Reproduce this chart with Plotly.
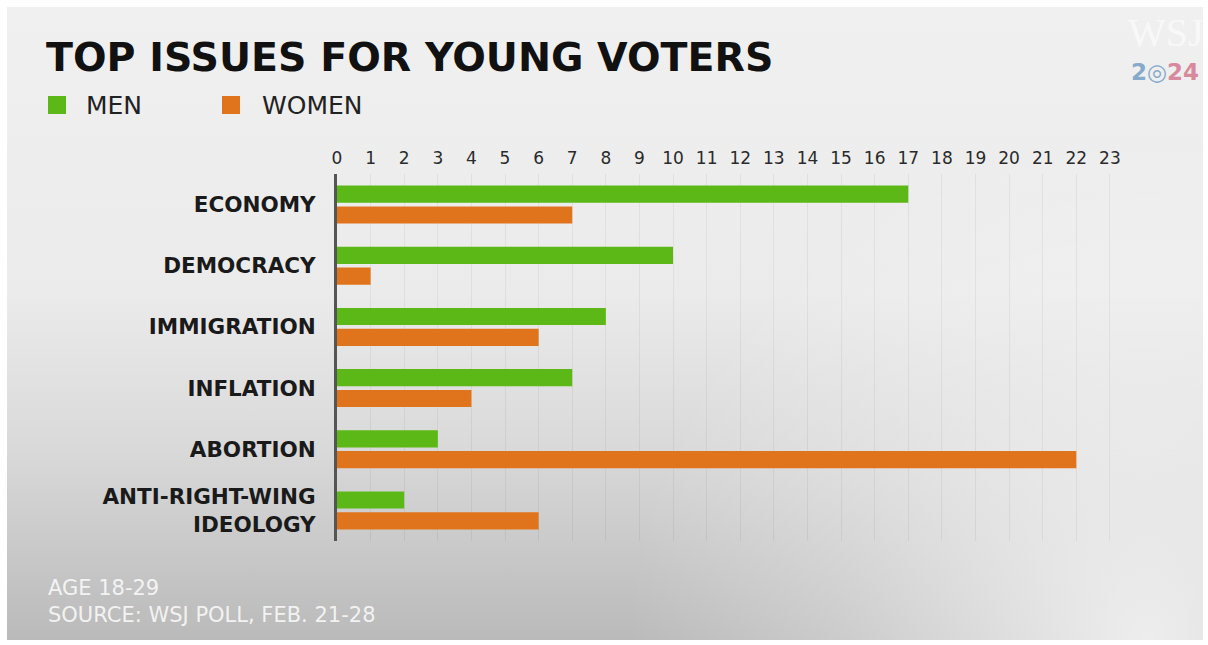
import plotly.graph_objects as go
import urllib.parse

categories = ["ECONOMY", "DEMOCRACY", "IMMIGRATION", "INFLATION", "ABORTION",
              "ANTI-RIGHT-WING<br>IDEOLOGY"]
men = [17, 10, 8, 7, 3, 2]
women = [7, 1, 6, 4, 22, 6]
tick_vals = list(range(0, 24))

GREEN = "#5cb816"
ORANGE = "#e0741d"
FONT = "DejaVu Sans"

W, H = 1208, 645
L, R, T, B = 337, 88, 174, 104
pw = W - L - R
ph = H - T - B

fig = go.Figure()
fig.add_trace(go.Bar(y=categories, x=men, orientation="h", name="MEN",
                     marker=dict(color=GREEN, line=dict(width=0)),
                     width=0.28, offset=-0.31, showlegend=False))
fig.add_trace(go.Bar(y=categories, x=women, orientation="h", name="WOMEN",
                     marker=dict(color=ORANGE, line=dict(width=0)),
                     width=0.28, offset=0.03, showlegend=False))

# background gradient panel via inline SVG
svg = f"""<svg xmlns='http://www.w3.org/2000/svg' width='1196' height='633' viewBox='0 0 1196 633' preserveAspectRatio='none'>
<defs>
<linearGradient id='g' x1='0' y1='0' x2='0' y2='1'>
<stop offset='0' stop-color='#f0f0f0'/>
<stop offset='0.45' stop-color='#ebebeb'/>
<stop offset='0.7' stop-color='#d9d9d9'/>
<stop offset='1' stop-color='#bababa'/>
</linearGradient>
<radialGradient id='r' cx='1140' cy='640' r='520' gradientUnits='userSpaceOnUse'>
<stop offset='0' stop-color='#ffffff' stop-opacity='0.75'/>
<stop offset='0.6' stop-color='#ffffff' stop-opacity='0.25'/>
<stop offset='1' stop-color='#ffffff' stop-opacity='0'/>
</radialGradient>
</defs>
<rect x='0' y='0' width='1196' height='633' fill='url(#g)'/>
<rect x='0' y='0' width='1196' height='633' fill='url(#r)'/>
</svg>"""
src = "data:image/svg+xml;charset=utf-8," + urllib.parse.quote(svg)

def px_x(p):
    return (p - L) / pw

def px_y(p):
    return 1 - (p - T) / ph

fig.add_layout_image(dict(source=src, xref="paper", yref="paper",
                          x=px_x(7), y=px_y(7), sizex=1196 / pw, sizey=633 / ph,
                          xanchor="left", yanchor="top", sizing="stretch",
                          layer="below"))

annotations = [
    dict(text="<b>TOP ISSUES FOR YOUNG VOTERS</b>", x=px_x(44), y=px_y(57),
         xanchor="left", yanchor="middle",
         font=dict(family=FONT, size=39.5, color="#111111")),
    dict(text="MEN", x=px_x(84), y=px_y(105), xanchor="left", yanchor="middle",
         font=dict(family=FONT, size=25, color="#222222")),
    dict(text="WOMEN", x=px_x(260), y=px_y(105), xanchor="left", yanchor="middle",
         font=dict(family=FONT, size=25, color="#222222")),
    dict(text="AGE 18-29<br>SOURCE: WSJ POLL, FEB. 21-28", x=px_x(46), y=px_y(601),
         xanchor="left", yanchor="middle", align="left",
         font=dict(family=FONT, size=21, color="rgba(250,250,250,0.9)")),
    dict(text="WSJ", x=px_x(1166), y=px_y(32), xanchor="center", yanchor="middle",
         font=dict(family="Liberation Serif", size=40, color="rgba(255,255,255,0.6)")),
    dict(text="<b><span style='color:#86a9cc'>2◎</span><span style='color:#d88a9c'>24</span></b>",
         x=px_x(1165), y=px_y(72), xanchor="center", yanchor="middle",
         font=dict(family=FONT, size=23)),
]
for a in annotations:
    a.update(xref="paper", yref="paper", showarrow=False)

shapes = [
    dict(type="rect", xref="paper", yref="paper", x0=px_x(48), x1=px_x(66),
         y0=px_y(96), y1=px_y(114), fillcolor=GREEN, line=dict(width=0)),
    dict(type="rect", xref="paper", yref="paper", x0=px_x(222), x1=px_x(240),
         y0=px_y(96), y1=px_y(114), fillcolor=ORANGE, line=dict(width=0)),
]

fig.update_layout(
    width=W, height=H,
    margin=dict(l=L, r=R, t=T, b=B),
    paper_bgcolor="white",
    plot_bgcolor="rgba(0,0,0,0)",
    annotations=annotations,
    shapes=shapes,
    barmode="overlay",
    xaxis=dict(side="top", range=[0, 23.3], tickvals=tick_vals,
               ticktext=[str(v) for v in tick_vals],
               showgrid=True, gridcolor="rgba(0,0,0,0.05)", gridwidth=1,
               zeroline=False, showline=False, ticks="", ticklabelstandoff=6,
               tickfont=dict(family=FONT, size=17, color="#2a2a2a"),
               fixedrange=True),
    yaxis=dict(autorange="reversed", showline=True, linecolor="#555555", linewidth=3,
               ticks="", ticklabelstandoff=14, showgrid=False,
               tickfont=dict(family=FONT, size=21.5, color="#1a1a1a", weight="bold"),
               fixedrange=True),
)

fig.write_html("out.html")
